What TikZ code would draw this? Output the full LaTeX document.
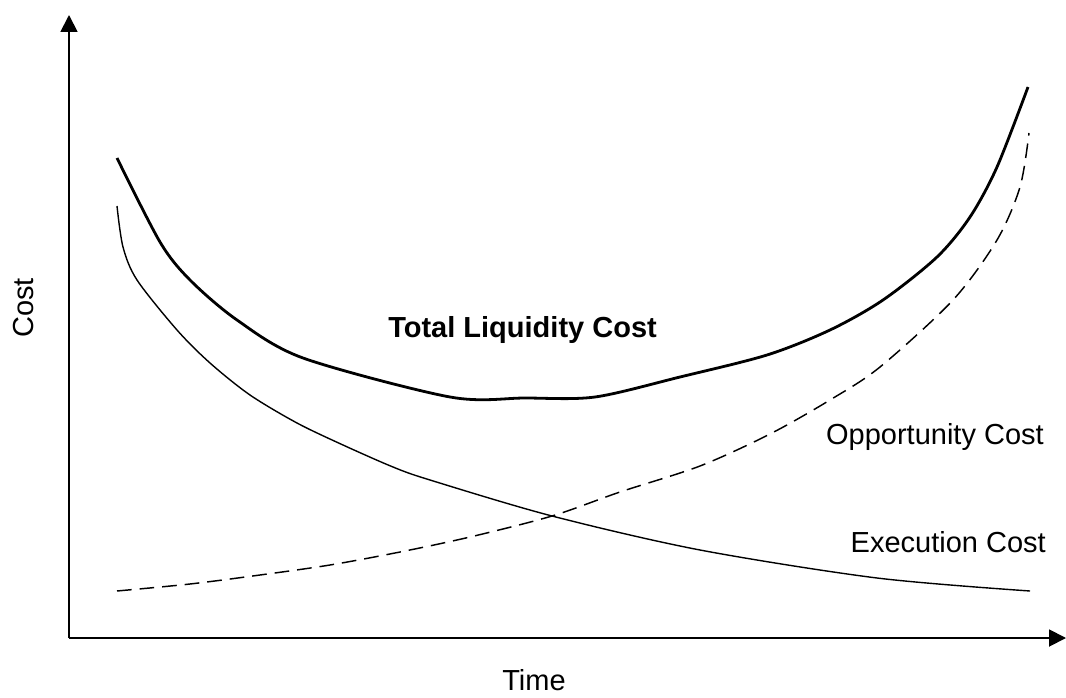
\documentclass[tikz,border=0pt]{standalone}
\usepackage{fontspec}
\setmainfont{Liberation Sans}
\usepackage{tikz}
\usetikzlibrary{arrows.meta}

\begin{document}
\begin{tikzpicture}[x=0.75pt, y=-0.75pt]
            \tikzset{
                axis line/.style={
                    line width=1.4pt,
                    -{Triangle[length=12.75pt, width=12.75pt]}
                },
                total curve/.style={line width=2.1pt, line join=round},
                cost curve/.style={line width=1.05pt, line join=round},
                opp curve/.style={line width=1.1pt, dash pattern=on 11pt off 6pt},
                curve label/.style={font=\fontsize{21.75}{26}\selectfont, inner sep=0pt}
            }

            % Fix the page to the reference size
            \useasboundingbox (0,0) rectangle (1066,698);

            % --- AXES ---
            \coordinate (O) at (69,638);
            \coordinate (Ytop) at (69,15);
            \coordinate (Xend) at (1066,638);
            \draw[axis line] (O) -- (Ytop);
            \draw[axis line] (O) -- (Xend);

            % Axis labels
            \node[curve label, rotate=90, anchor=base] (costlabel) at (33,308) {Cost};
            \node[curve label, anchor=base] (timelabel) at (534,690) {Time};

            % --- CURVES ---
            % Total liquidity cost (thick, U shape)
            \draw[total curve] plot[smooth, tension=0.5] coordinates {
                (117,158) (160,242) (190,280) (237,320) (303,358)
                (450,397) (525,398) (595,397) (680,377) (767,355) (830,330)
                (883,300) (937,257) (970,217) (997,167) (1028,87)};

            % Execution cost (thin, falling)
            \draw[cost curve] plot[smooth, tension=0.5] coordinates {
                (117,206) (123,247) (137,280) (177,330) (210,363)
                (250,395) (297,423) (343,445) (393,467) (430,480) (552,516)
                (700,550) (877,578) (1030,591)};

            % Opportunity cost (dashed, rising)
            \draw[opp curve] plot[smooth, tension=0.5] coordinates {
                (117,591) (190,584) (260,575) (330,565) (400,552) (470,537)
                (552,516) (620,492) (700,466) (770,434) (830,400) (880,367)
                (953,300) (997,240) (1020,187) (1029,133)};

            % --- LABELS ---
            \node[curve label, anchor=base west, font=\fontsize{21.75}{26}\selectfont\bfseries] (totallabel) at (388,337) {Total Liquidity Cost};
            \node[curve label, anchor=base east] (opplabel) at (1044,444) {Opportunity Cost};
            \node[curve label, anchor=base east] (execlabel) at (1046,552) {Execution Cost};
        \end{tikzpicture}
\end{document}
